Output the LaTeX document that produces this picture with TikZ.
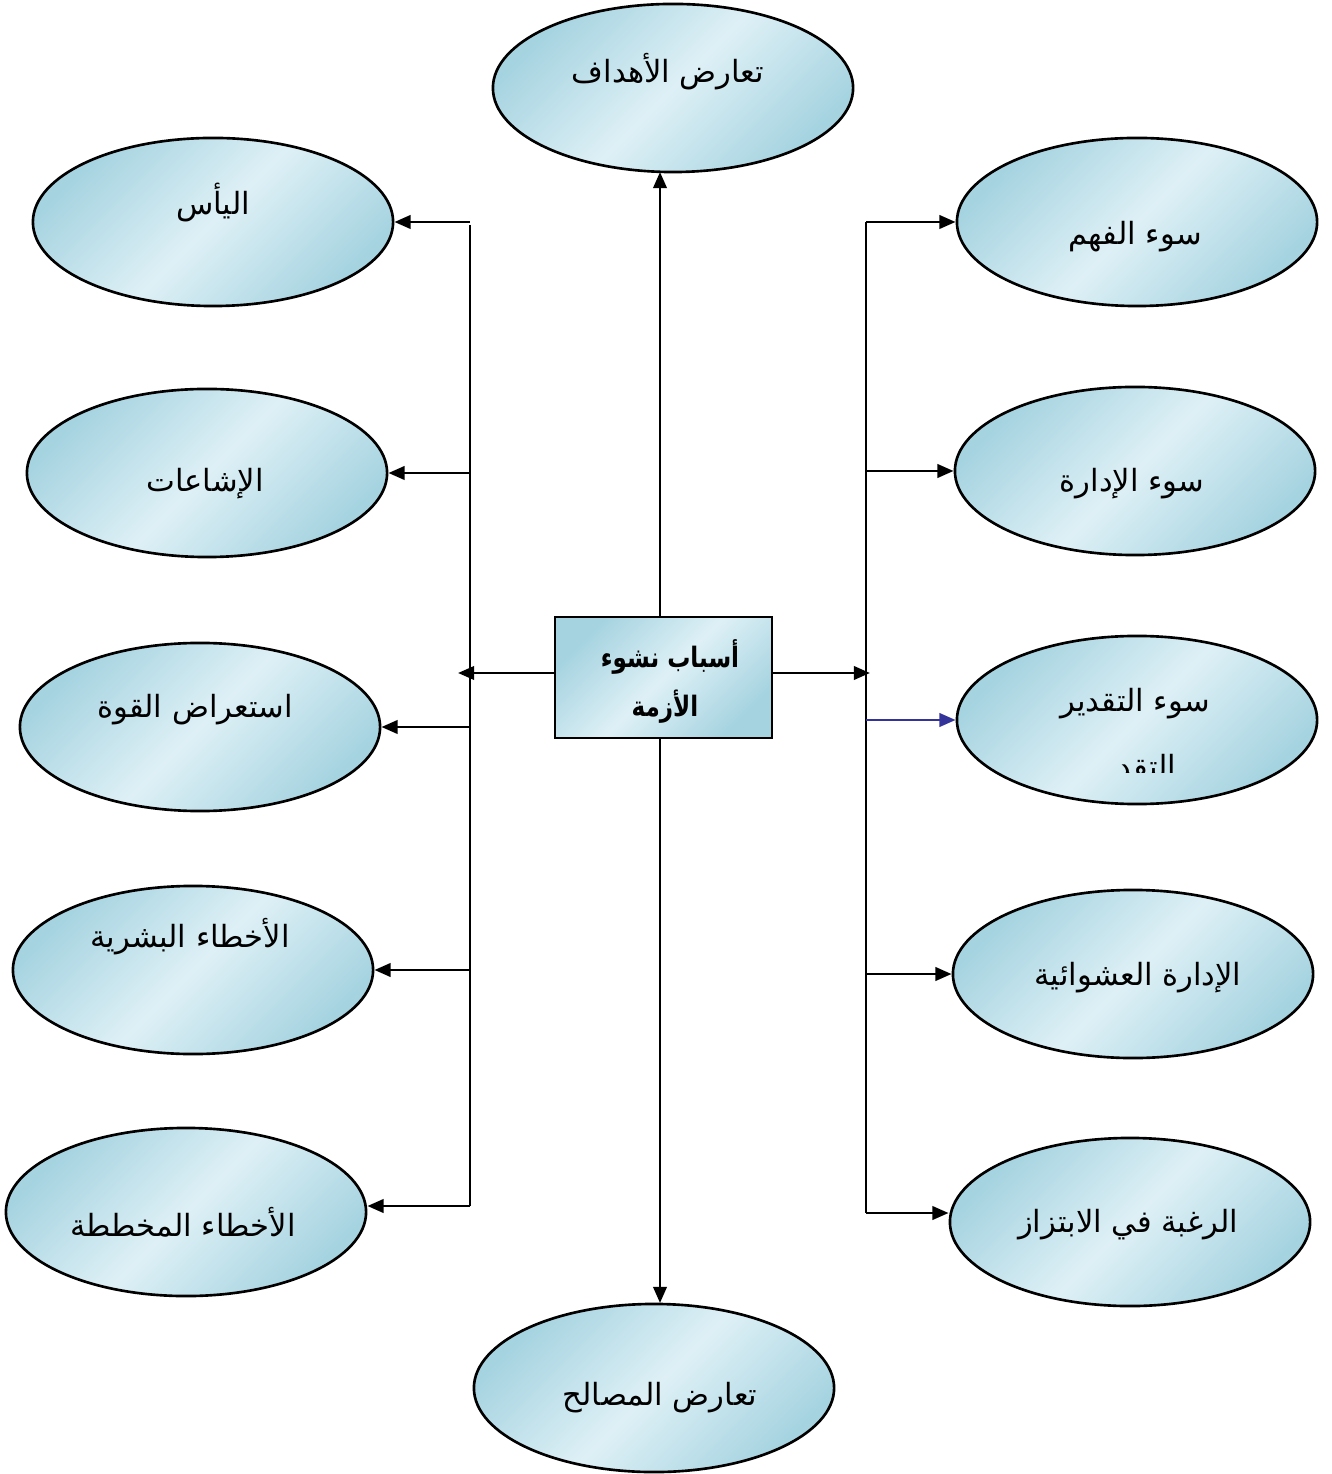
\documentclass[tikz,border=0pt]{standalone}
\usepackage{fontspec}
\setmainfont{DejaVu Sans}
\newfontfamily\arabicfont[Script=Arabic]{DejaVu Sans}
\TeXXeTstate=1
\usetikzlibrary{shapes.geometric,arrows.meta}
\definecolor{cLight}{RGB}{222,240,246}
\definecolor{cDark}{RGB}{165,211,224}
\definecolor{cBlue}{RGB}{51,51,153}
\tikzset{
  ell/.style={ellipse, draw=black, line width=0.75pt, top color=cDark, bottom color=cDark, middle color=cLight, shading angle=45, minimum width=3.6cm, minimum height=1.68cm, inner sep=0pt},
  cbox/.style={rectangle, draw=black, line width=0.75pt, top color=cDark, bottom color=cDark, middle color=cLight, shading angle=45, minimum width=2.17cm, minimum height=1.21cm, inner sep=0pt},
  lbl/.style={font=\arabicfont\fontsize{8.7}{10}\selectfont, inner sep=0pt},
  blbl/.style={font=\arabicfont\bfseries\fontsize{8}{9}\selectfont, inner sep=0pt},
  conn/.style={line width=0.8pt},
  arr/.style={line width=0.8pt, -{Triangle[length=4.6pt,width=3.8pt]}},
}
\newcommand{\ar}[1]{\beginR #1\endR}
\begin{document}
\begin{tikzpicture}[x=0.01cm,y=-0.01cm]
\useasboundingbox (0,0) rectangle (1331,1474);
% ellipses
\node[ell] (top) at (673,88) {};
\node[ell] (bot) at (654,1388) {};
\node[ell] (L1) at (213,222) {};
\node[ell] (L2) at (207,473) {};
\node[ell] (L3) at (200,727) {};
\node[ell] (L4) at (193,970) {};
\node[ell] (L5) at (186,1212) {};
\node[ell] (R1) at (1137,222) {};
\node[ell] (R2) at (1135,471) {};
\node[ell] (R3) at (1137,720) {};
\node[ell] (R4) at (1133,974) {};
\node[ell] (R5) at (1130,1222) {};
\node[cbox] (box) at (663.5,677.5) {};
% labels
\node[lbl] (ttop) at (668,72) {\ar{تعارض الأهداف}};
\node[lbl] (tbot) at (660,1398) {\ar{تعارض المصالح}};
\node[lbl] (tL1) at (213,203) {\ar{اليأس}};
\node[lbl] (tL2) at (205,484) {\ar{الإشاعات}};
\node[lbl] (tL3) at (195,710) {\ar{استعراض القوة}};
\node[lbl] (tL4) at (190,937) {\ar{الأخطاء البشرية}};
\node[lbl] (tL5) at (183,1222) {\ar{الأخطاء المخططة}};
\node[lbl] (tR1) at (1135,237) {\ar{سوء الفهم}};
\node[lbl] (tR2) at (1132,484) {\ar{سوء الإدارة}};
\node[lbl] (tR3) at (1135,704) {\ar{سوء التقدير}};
\node[lbl] (tR4) at (1138,978) {\ar{الإدارة العشوائية}};
\node[lbl] (tR5) at (1128,1225) {\ar{الرغبة في الابتزاز}};
\node[blbl] (tb1) at (670,657) {\scalebox{0.82}[1]{\ar{أسباب نشوء}}};
\node[blbl] (tb2) at (665,707) {\scalebox{0.82}[1]{\ar{الأزمة}}};
\begin{scope}
  \clip (1118,750) rectangle (1182,772);
  \node[lbl, anchor=base east] (tR3b) at (1177,777) {\ar{التقدير}};
\end{scope}
% trunks
\coordinate (LT) at (470,225);
\coordinate (LB) at (470,1206);
\coordinate (LM) at (458,673);
\coordinate (RT) at (866,222);
\coordinate (RB) at (866,1213);
\coordinate (RM) at (870,673);
\draw[conn] (LT) -- (LB);
\draw[conn] (RT) -- (RB);
% centre connectors
\draw[arr] (box.north -| 660,0) -- (660,172);
\draw[arr] (box.south -| 660,0) -- (660,1303);
\draw[arr] (LM -| box.west) -- (LM);
\draw[arr] (RM -| box.east) -- (RM);
% left branches
\draw[arr] (L1.east -| LT) -- (L1.east);
\draw[arr] (L2.east -| LT) -- (L2.east);
\draw[arr] (L3.east -| LT) -- (L3.east);
\draw[arr] (L4.east -| LT) -- (L4.east);
\draw[arr] (LB) -- (L5.east |- LB);
% right branches
\draw[arr] (RT) -- (R1.west);
\draw[arr] (R2.west -| RT) -- (R2.west);
\draw[arr, draw=cBlue, fill=cBlue] (R3.west -| RT) -- (R3.west);
\draw[arr] (R4.west -| RT) -- (R4.west);
\draw[arr] (RB) -- (R5.west |- RB);
\end{tikzpicture}
\end{document}
